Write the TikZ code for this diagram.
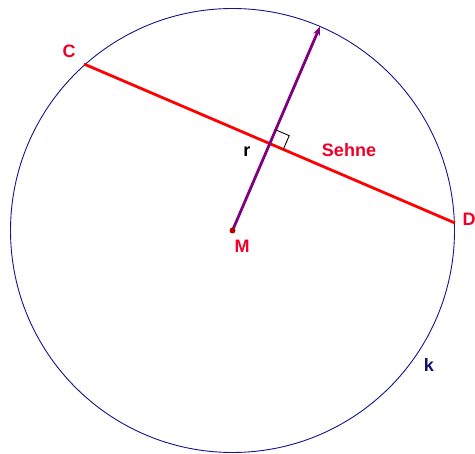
\documentclass[tikz,border=0pt]{standalone}
\usepackage{fontspec}
\setmainfont{Liberation Sans}
\usetikzlibrary{arrows.meta,calc}
\definecolor{chordred}{RGB}{255,0,0}
\definecolor{radpurple}{RGB}{128,0,128}
\definecolor{circblue}{RGB}{20,20,140}
\definecolor{labred}{RGB}{240,0,40}
\tikzset{
  lab/.style={font=\fontsize{18}{18}\selectfont\bfseries, inner sep=0pt},
  chord/.style={draw=chordred, line width=2.8pt},
  radius line/.style={draw=radpurple, line width=2.8pt, -{Stealth[length=9pt,width=7pt]}},
  circ/.style={draw=circblue, line width=0.9pt}
}
\begin{document}
\begin{tikzpicture}[x=1pt,y=-1pt]
\useasboundingbox (0,0) rectangle (475,454);
\coordinate (M) at (232.5,230.5);
\coordinate (C) at (84,64);
\coordinate (D) at (455,223);
\coordinate (F) at (269.5,143.5);
\coordinate (T) at (320,26.5);
\draw[circ] (M) circle[radius=222];
\draw[chord] (C) -- (D);
\draw[radius line] (M) -- (T);
% right angle mark
\draw[black, line width=0.9pt]
  ($(F)!15pt!(T)$) -- ($(F)!15pt!(T) + (F)!15pt!(D) - (F)$) -- ($(F)!15pt!(D)$);
\fill[red!70!black] (M) circle[radius=3];
\node[lab, text=labred] (Cl) at (69,51) {C};
\node[lab, text=labred] (Dl) at (469,219) {D};
\node[lab, text=labred] (Ml) at (242,246) {M};
\node[lab, text=labred] (Sl) at (349,150) {Sehne};
\node[lab, text=black] (rl) at (247,152) {r};
\node[lab, text=circblue!80!black] (kl) at (429,365) {k};
\end{tikzpicture}
\end{document}
